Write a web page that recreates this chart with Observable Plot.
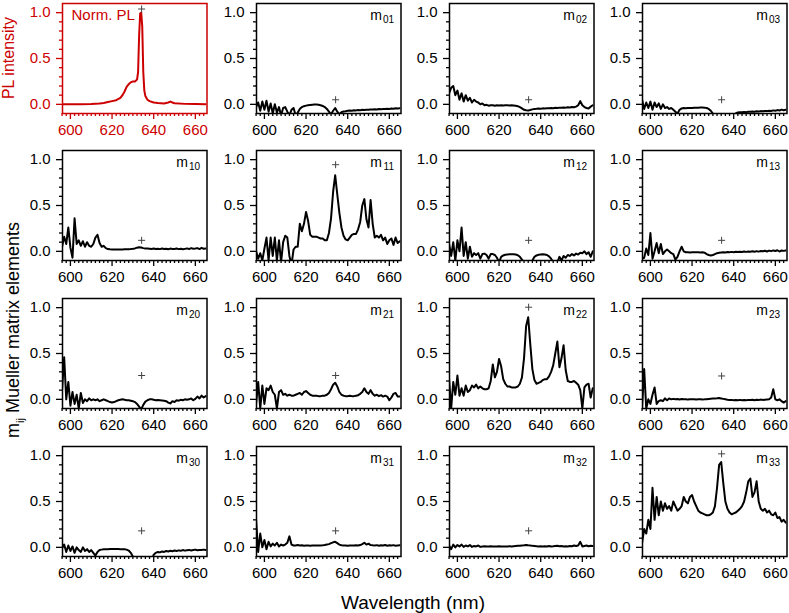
<!DOCTYPE html>
<html><head><meta charset="utf-8">
<script src="https://cdn.jsdelivr.net/npm/d3@7"></script>
<script src="https://cdn.jsdelivr.net/npm/@observablehq/plot@0.6"></script>
<style>
body{margin:0;background:#fff;}
#chart{position:relative;width:789px;height:613px;font-family:"Liberation Sans",Arial,sans-serif;overflow:hidden;}
#chart svg{position:absolute;}
.lab{position:absolute;white-space:nowrap;line-height:1.2;}
</style></head><body><div id="chart"></div>
<script>
// ---------- data ----------
const wavelength = [596,597,598,599,600,601,602,603,604,605,606,607,608,609,610,611,612,613,614,615,616,617,618,619,620,621,622,623,624,625,626,627,628,629,630,631,632,633,634,635,636,637,638,639,640,641,642,643,644,645,646,647,648,649,650,651,652,653,654,655,656,657,658,659,660,661,662,663,664,665];

const plWavelength = [596,600,605,610,614,616,618,620,622,624,625,626,627,628,629,630,631,632,632.5,633,633.5,634,634.5,635,635.5,636,637,638,640,642,645,647,648,649,650,655,660,665];
const plIntensity  = [0,0,0,0.003,0.008,0.015,0.025,0.035,0.045,0.07,0.1,0.14,0.19,0.22,0.24,0.25,0.25,0.27,0.35,0.75,0.99,1.0,0.85,0.35,0.15,0.09,0.05,0.035,0.02,0.015,0.01,0.02,0.03,0.02,0.012,0.005,0.003,0.002];

const m01 = [-0.03,0.02,-0.07,0.03,-0.06,0.04,-0.08,0.01,-0.1,0,-0.09,-0.03,-0.12,-0.04,-0.03,-0.08,-0.12,-0.06,-0.04,-0.12,-0.09,-0.05,-0.03,-0.02,-0.014,-0.01,-0.006,-0.004,-0.003,-0.003,-0.005,-0.01,-0.018,-0.03,-0.05,-0.08,-0.11,-0.07,-0.04,-0.08,-0.11,-0.085,-0.078,-0.075,-0.07,-0.068,-0.07,-0.065,-0.066,-0.062,-0.064,-0.06,-0.061,-0.058,-0.06,-0.056,-0.057,-0.054,-0.056,-0.052,-0.054,-0.05,-0.052,-0.048,-0.05,-0.045,-0.048,-0.042,-0.046,-0.044];
const m02 = [0.12,0.18,0.2,0.1,0.15,0.05,0.12,0.03,0.1,0.04,0.07,0.02,0.05,0.03,0.02,0,0.01,-0.01,-0.005,-0.015,-0.01,-0.01,-0.015,-0.01,-0.012,-0.01,-0.012,-0.01,-0.01,-0.012,-0.01,-0.012,-0.015,-0.02,-0.03,-0.045,-0.06,-0.065,-0.068,-0.062,-0.055,-0.05,-0.048,-0.045,-0.047,-0.044,-0.045,-0.042,-0.043,-0.04,-0.042,-0.038,-0.04,-0.036,-0.038,-0.035,-0.036,-0.032,-0.034,-0.03,-0.032,-0.025,-0.01,0.035,-0.01,-0.03,-0.04,-0.045,-0.025,-0.01];
const m03 = [0.05,-0.05,0.02,-0.04,0.03,-0.06,0.02,-0.03,0.01,-0.05,0,-0.04,-0.03,-0.05,-0.04,-0.06,-0.08,-0.1,-0.06,-0.045,-0.04,-0.042,-0.04,-0.04,-0.04,-0.038,-0.037,-0.036,-0.035,-0.035,-0.036,-0.04,-0.05,-0.07,-0.1,-0.13,-0.15,-0.15,-0.15,-0.15,-0.15,-0.15,-0.15,-0.15,-0.15,-0.1,-0.088,-0.085,-0.087,-0.083,-0.085,-0.08,-0.082,-0.078,-0.08,-0.076,-0.078,-0.074,-0.076,-0.072,-0.074,-0.07,-0.072,-0.066,-0.07,-0.063,-0.067,-0.058,-0.065,-0.06];
const m10 = [0.05,0.16,0.08,0.26,0.04,-0.07,0.36,0.08,0.12,0.06,0.11,0.05,0.1,0.06,0.05,0.08,0.15,0.18,0.09,0.05,0.06,0.035,0.025,0.022,0.02,0.02,0.02,0.02,0.02,0.021,0.022,0.022,0.024,0.025,0.028,0.032,0.04,0.045,0.042,0.035,0.03,0.03,0.028,0.025,0.03,0.025,0.028,0.024,0.03,0.025,0.028,0.022,0.03,0.026,0.025,0.03,0.024,0.028,0.022,0.027,0.032,0.025,0.035,0.028,0.03,0.035,0.025,0.038,0.028,0.03];
const m11 = [0,-0.08,-0.02,-0.1,0.03,0.15,-0.1,0.15,-0.05,0.15,-0.1,0.12,-0.12,0.1,0.17,0.15,-0.05,-0.15,0.02,0.05,0.05,0.3,0.22,0.3,0.43,0.33,0.18,0.16,0.16,0.16,0.15,0.14,0.14,0.12,0.12,0.2,0.36,0.65,0.83,0.62,0.42,0.26,0.17,0.13,0.12,0.15,0.18,0.19,0.19,0.24,0.32,0.5,0.57,0.35,0.26,0.56,0.3,0.15,0.17,0.15,0.18,0.12,0.15,0.08,0.12,0.14,0.07,0.15,0.09,0.11];
const m12 = [0.08,-0.05,0.1,-0.1,0.12,0,0.26,-0.05,0.1,-0.08,0.05,-0.06,-0.02,-0.04,-0.02,-0.08,-0.03,-0.025,-0.04,-0.08,-0.03,-0.03,-0.04,-0.07,-0.12,-0.06,-0.045,-0.038,-0.035,-0.033,-0.032,-0.033,-0.035,-0.042,-0.06,-0.09,-0.13,-0.15,-0.15,-0.15,-0.1,-0.06,-0.045,-0.038,-0.034,-0.033,-0.035,-0.04,-0.055,-0.08,-0.12,-0.15,-0.12,-0.06,-0.1,-0.05,-0.07,-0.04,-0.05,-0.03,-0.045,-0.025,-0.035,-0.015,-0.02,0,-0.03,-0.01,-0.06,0];
const m13 = [-0.08,-0.07,0.03,-0.04,0.2,-0.08,0,0.09,-0.02,0.08,-0.03,0,0.02,0,-0.02,-0.03,-0.09,-0.06,0,0.05,0,-0.01,-0.01,-0.012,-0.01,-0.011,-0.01,-0.01,-0.012,-0.01,-0.015,-0.03,-0.04,-0.045,-0.04,-0.03,-0.02,-0.015,-0.012,-0.01,-0.012,-0.008,-0.01,-0.006,-0.009,-0.005,-0.008,-0.004,-0.007,-0.003,-0.006,-0.002,-0.005,0,-0.004,0.002,-0.003,0.004,0,0.006,-0.002,0.008,0.002,0.01,0.004,0.012,-0.002,0.01,0.005,0.008];
const m20 = [0.1,0.46,0,0.19,-0.07,0.08,-0.05,0.05,-0.1,0.07,-0.04,0,-0.02,0.01,-0.01,0,-0.01,0,-0.02,-0.01,0,-0.01,-0.02,-0.03,-0.035,-0.03,-0.02,-0.01,-0.005,0,-0.005,-0.01,-0.01,-0.015,-0.02,-0.03,-0.05,-0.08,-0.11,-0.06,-0.025,-0.01,0,0,-0.005,-0.01,-0.008,-0.01,-0.012,-0.015,-0.02,-0.035,-0.045,-0.02,-0.03,-0.01,-0.015,-0.005,-0.01,0,-0.005,0,0.01,-0.01,0.005,0.03,0.01,0.04,0.02,0.035];
const m21 = [-0.05,0.19,-0.1,0.15,-0.05,0.12,0.1,0.15,0.08,0.05,-0.1,0.08,0.1,0.05,0.06,0.04,0.05,0.04,0.04,0.05,0.06,0.07,0.05,0.08,0.09,0.07,0.05,0.04,0.04,0.04,0.035,0.035,0.04,0.04,0.05,0.07,0.11,0.16,0.18,0.14,0.08,0.05,0.04,0.035,0.035,0.04,0.035,0.035,0.04,0.045,0.06,0.08,0.12,0.08,0.06,0.1,0.06,0.04,0.05,0.035,0.045,0.03,0.04,0.03,-0.01,0.02,0.06,0.07,0.03,0.03];
const m22 = [0.22,-0.1,0.19,0.05,0.26,0.04,0.12,0.04,0.15,0.08,0.1,0.15,0.13,0.16,0.12,0.14,0.12,0.11,0.11,0.12,0.2,0.38,0.24,0.3,0.44,0.36,0.22,0.17,0.14,0.14,0.13,0.13,0.13,0.14,0.17,0.24,0.45,0.8,0.895,0.6,0.33,0.21,0.17,0.18,0.19,0.21,0.22,0.22,0.25,0.3,0.37,0.5,0.63,0.35,0.45,0.59,0.32,0.2,0.19,0.19,0.2,0.18,0.16,0.1,-0.1,0.13,0.16,0.17,0.02,0.12];
const m23 = [-0.08,0.33,-0.1,0,-0.05,0.05,0.13,-0.05,-0.02,-0.01,-0.02,0.01,-0.01,0.01,0,0.005,0,0.004,-0.002,0.003,0,0.002,-0.003,0.001,0,0.002,-0.002,0,0.001,-0.001,0,0.002,0.004,0.006,0.008,0.01,0.012,0.015,0.01,0.005,0,-0.005,-0.008,-0.006,-0.01,-0.008,-0.01,-0.006,-0.009,-0.007,-0.01,-0.006,-0.008,-0.004,-0.009,-0.005,-0.008,-0.003,-0.006,-0.004,-0.002,0,0.02,0.11,0,-0.01,0,-0.02,-0.035,-0.02];
const m30 = [-0.01,0.03,-0.05,0.02,-0.04,0.01,-0.06,0,-0.03,-0.05,0,-0.04,-0.02,-0.05,-0.03,-0.06,-0.09,-0.05,-0.03,-0.025,-0.022,-0.02,-0.02,-0.019,-0.018,-0.018,-0.018,-0.019,-0.02,-0.02,-0.021,-0.025,-0.035,-0.06,-0.1,-0.15,-0.15,-0.15,-0.15,-0.15,-0.15,-0.15,-0.15,-0.15,-0.08,-0.06,-0.05,-0.055,-0.045,-0.05,-0.04,-0.045,-0.038,-0.042,-0.035,-0.04,-0.033,-0.038,-0.03,-0.036,-0.032,-0.028,-0.035,-0.03,-0.025,-0.032,-0.028,-0.03,-0.025,-0.03];
const m31 = [0.3,-0.05,0.15,0,0.08,-0.02,0.06,0.01,0.04,0.02,0.05,0.01,0.03,0.02,0.03,0.05,0.12,0.03,0.02,0.02,0.025,0.02,0.022,0.018,0.02,0.02,0.018,0.02,0.019,0.02,0.021,0.02,0.022,0.025,0.03,0.035,0.045,0.055,0.06,0.045,0.03,0.022,0.02,0.02,0.018,0.02,0.019,0.02,0.022,0.02,0.025,0.035,0.05,0.03,0.04,0.025,0.022,0.02,0.024,0.018,0.022,0.02,0.025,0.018,0.022,0.02,0.024,0.018,0.02,0.022];
const m32 = [0.02,-0.02,0.03,0,0.025,0.01,0.03,0.005,0.02,0.01,0.025,0.005,0.015,0.01,0.02,0.005,0.01,0.012,0.008,0.01,0.012,0.01,0.008,0.01,0.012,0.01,0.008,0.01,0.01,0.012,0.01,0.012,0.014,0.016,0.018,0.02,0.022,0.025,0.022,0.02,0.016,0.014,0.012,0.01,0.012,0.01,0.012,0.01,0.014,0.01,0.012,0.015,0.018,0.012,0.014,0.01,0.012,0.01,0.015,0.012,0.02,0.015,0.02,0.06,0.01,0.015,0.02,0.012,0.018,0.015];
const m33 = [0.05,0.2,0.15,0.3,0.2,0.65,0.3,0.55,0.35,0.5,0.4,0.48,0.42,0.45,0.4,0.5,0.45,0.4,0.42,0.45,0.55,0.5,0.48,0.55,0.57,0.5,0.45,0.4,0.38,0.37,0.36,0.35,0.35,0.36,0.38,0.45,0.65,0.9,0.93,0.7,0.5,0.42,0.38,0.36,0.37,0.38,0.4,0.42,0.45,0.5,0.6,0.72,0.75,0.55,0.6,0.72,0.5,0.42,0.4,0.42,0.38,0.4,0.36,0.35,0.38,0.32,0.33,0.28,0.3,0.27];

const elementNames = ["m00","m01","m02","m03","m10","m11","m12","m13","m20","m21","m22","m23","m30","m31","m32","m33"];
const elementSeries = [null,m01,m02,m03,m10,m11,m12,m13,m20,m21,m22,m23,m30,m31,m32,m33];
const markerWavelength = 634.2;
const markerLevel = [1.04,0.05,0.05,0.05,0.12,0.945,0.12,0.12,0.26,0.26,1.005,0.255,0.18,0.18,0.18,1.02];
const xTickValues = [600,620,640,660];
const yTickValues = [0,0.5,1];

// ---------- layout ----------
const colLeft = [62, 255.5, 449, 642];
const rowTop = [2.7, 150, 298.3, 446.3];
const PW = 144.5, PH = 110;
const ML = 50, MR = 6, MT = 6, MB = 36;
const FONT = '"Liberation Sans", Arial, sans-serif';
const RED = "#cc0000";

const xMinor = d3.range(596, 666, 2).filter(d => d % 20 !== 0);
const yMinor = [0.1,0.2,0.3,0.4,0.6,0.7,0.8,0.9];

const chart = document.getElementById("chart");

elementNames.forEach((name, k) => {
  const r = Math.floor(k / 4), c = k % 4;
  const isPL = k === 0;
  const color = isPL ? RED : "#000";
  const data = isPL
    ? plWavelength.map((w, i) => ({w, v: plIntensity[i]}))
    : wavelength.map((w, i) => ({w, v: elementSeries[k][i]}));
  const marks = [
    Plot.axisY(yMinor, {tickSize: 3, tickFormat: () => "", strokeWidth: 1.3, label: null}),
    Plot.axisY(yTickValues, {tickSize: 6, tickPadding: 6, tickFormat: d3.format(".1f"), strokeWidth: 1.3, fontSize: 15, label: null}),
    Plot.axisX(xMinor, {tickSize: 3, tickFormat: () => "", strokeWidth: 1.3, label: null}),
    Plot.axisX(xTickValues, {tickSize: 6, tickPadding: 5, strokeWidth: 1.3, fontSize: 15, label: null}),
    Plot.lineY(data, {x: "w", y: "v", stroke: color, strokeWidth: 2, clip: true, curve: "linear"}),
    Plot.frame({stroke: color, strokeWidth: 1.5}),
    Plot.dot([{w: markerWavelength, v: markerLevel[k]}], {x: "w", y: "v", symbol: "plus", r: 2.4, stroke: "#444", strokeWidth: 1})
  ];
  if (isPL) {
    marks.push(Plot.text(["Norm. PL"], {frameAnchor: "top-left", dx: 9, dy: 12, textAnchor: "start", lineAnchor: "middle", fill: RED, fontSize: 15}));
  } else {
    marks.push(Plot.text([name.slice(1)], {frameAnchor: "top-right", dx: -7, dy: 16, textAnchor: "end", lineAnchor: "middle", fill: "#000", fontSize: 10}));
    marks.push(Plot.text(["m"], {frameAnchor: "top-right", dx: -19, dy: 12, textAnchor: "end", lineAnchor: "middle", fill: "#000", fontSize: 14}));
  }
  const svg = Plot.plot({
    width: ML + PW + MR, height: MT + PH + MB,
    marginLeft: ML, marginRight: MR, marginTop: MT, marginBottom: MB,
    x: {domain: [596.2, 665.6], label: null},
    y: {domain: [-0.1, 1.1], label: null},
    style: {fontFamily: FONT, fontSize: "15px", color: color, background: "none", overflow: "visible"},
    marks
  });
  svg.style.left = (colLeft[c] - ML) + "px";
  svg.style.top = (rowTop[r] - MT) + "px";
  svg.style.position = "absolute";
  chart.appendChild(svg);
});

// global labels
function addLabel(html, css) {
  const d = document.createElement("div");
  d.className = "lab";
  d.innerHTML = html;
  Object.assign(d.style, css);
  chart.appendChild(d);
}
addLabel("Wavelength (nm)", {left: "0px", width: "826px", textAlign: "center", top: "592px", fontSize: "19px", color: "#000"});
addLabel('m<sub style="font-size:11px">ij</sub> Mueller matrix elements', {left: "-136px", width: "300px", height: "22px", textAlign: "center", top: "319px", fontSize: "18px", transform: "rotate(-90deg)", color: "#000"});
addLabel("PL intensity", {left: "-91px", width: "200px", height: "20px", textAlign: "center", top: "48px", fontSize: "16px", transform: "rotate(-90deg)", color: RED});
</script></body></html>
